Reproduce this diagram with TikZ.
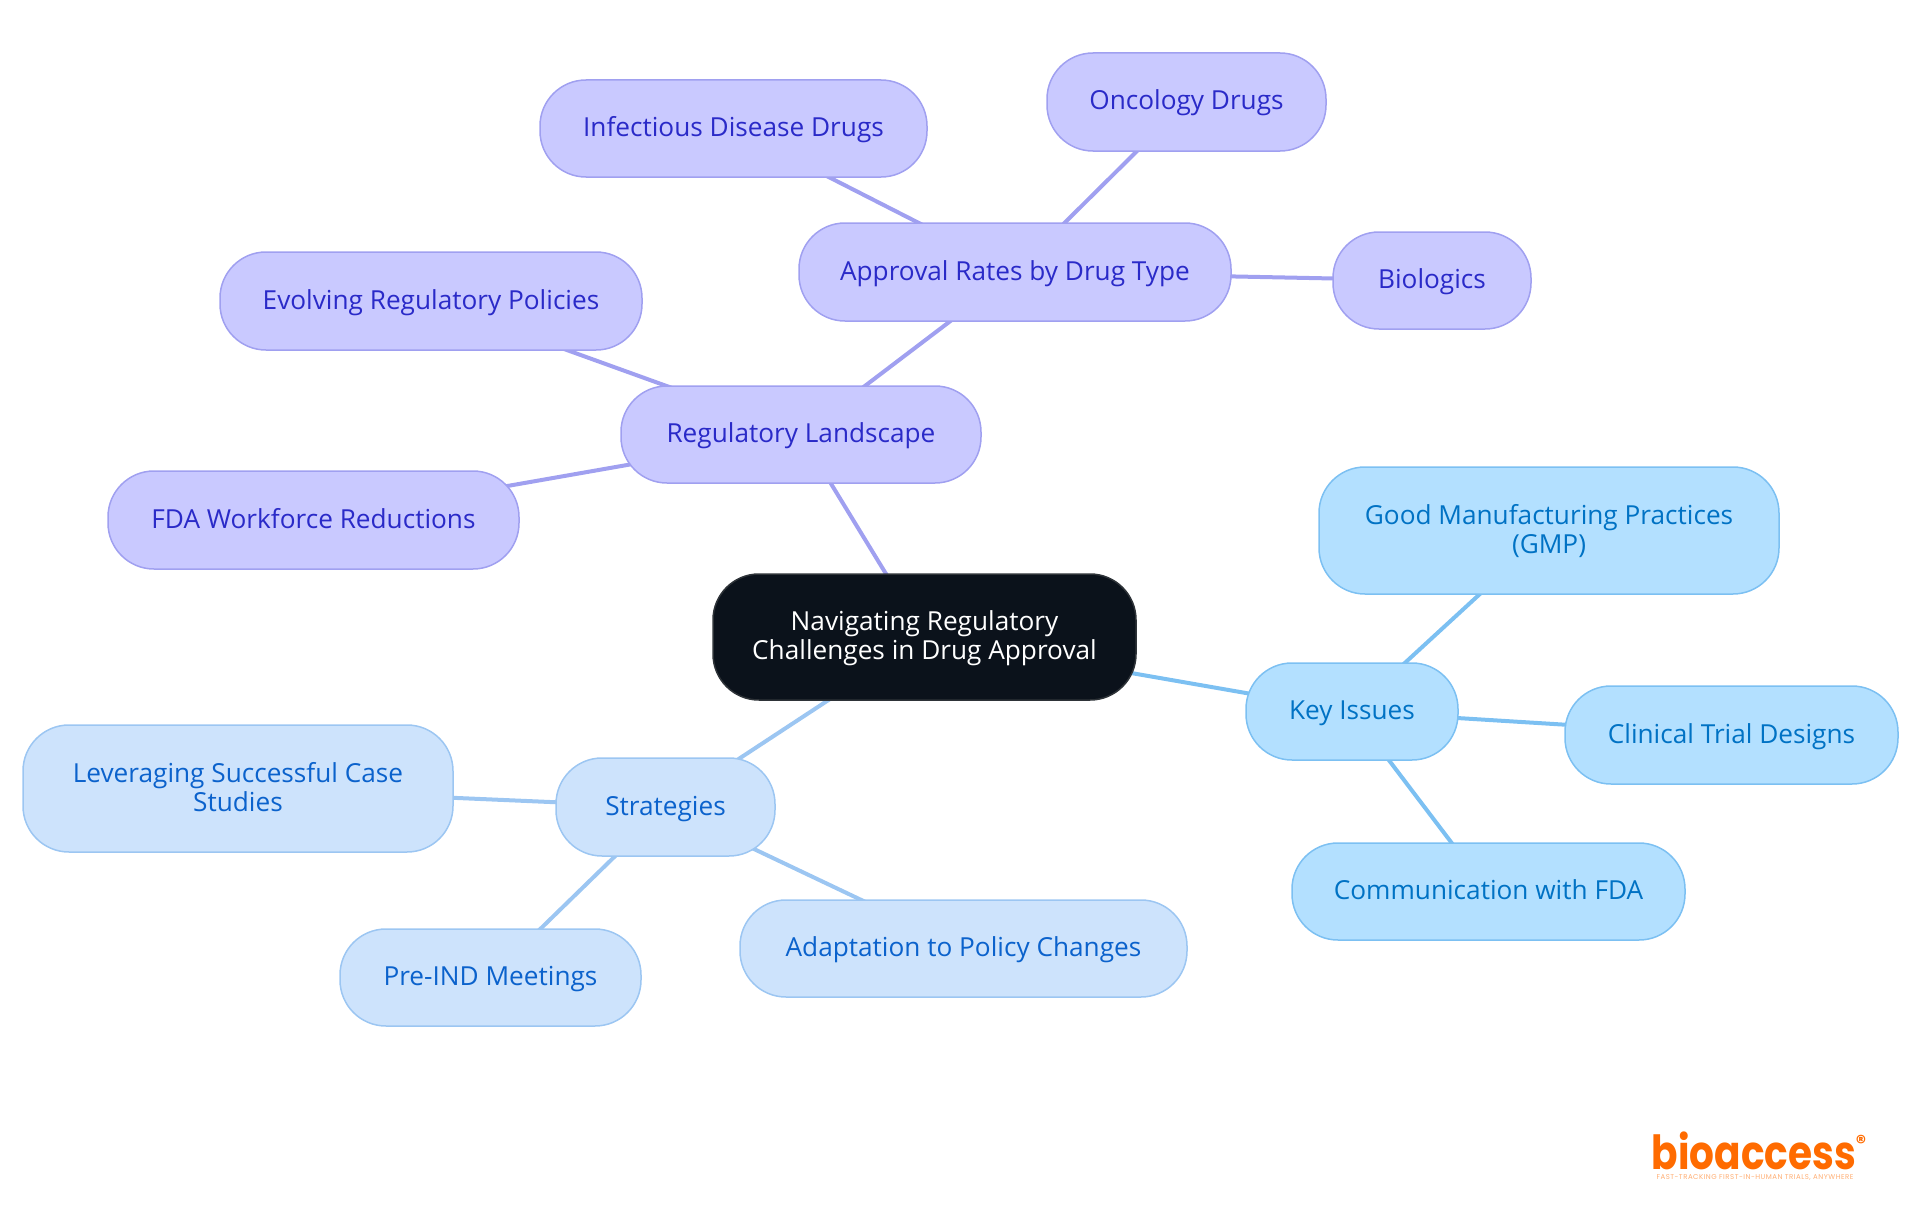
\documentclass[tikz,border=0pt]{standalone}
\usepackage{fontspec}
\usepackage{graphicx}
\usetikzlibrary{backgrounds}
\setmainfont{Open Sans}
\newfontfamily\logofont{Poppins}
\definecolor{rootfill}{HTML}{0B121B}
\definecolor{rootline}{HTML}{2E3338}
\definecolor{purfill}{HTML}{C9C9FF}
\definecolor{purline}{HTML}{A0A0F0}
\definecolor{purtext}{HTML}{2A2AC8}
\definecolor{skyfill}{HTML}{B3E0FF}
\definecolor{skyline}{HTML}{7CC0F2}
\definecolor{skytext}{HTML}{0072C4}
\definecolor{palefill}{HTML}{CDE3FC}
\definecolor{paleline}{HTML}{9CC6F2}
\definecolor{paletext}{HTML}{0B62CC}
\definecolor{logoorange}{HTML}{FF6B00}
\newcommand{\topstrut}{\rule{0pt}{24pt}}
\newcommand{\botstrut}{\rule[-8pt]{0pt}{8pt}}
\tikzset{
  x=1pt,y=-1pt,
  box/.style={rectangle,rounded corners=46pt,line width=1.5pt,align=center,inner sep=0pt,
     font=\fontsize{26.2}{29}\selectfont},
  rootbox/.style={box,fill=rootfill,draw=rootline,text=white},
  purbox/.style={box,fill=purfill,draw=purline,text=purtext},
  skybox/.style={box,fill=skyfill,draw=skyline,text=skytext},
  palebox/.style={box,fill=palefill,draw=paleline,text=paletext},
  purlink/.style={draw=purline,line width=4pt},
  skylink/.style={draw=skyline,line width=4pt},
  palelink/.style={draw=paleline,line width=4pt},
}
\begin{document}
\begin{tikzpicture}
\useasboundingbox (0,0) rectangle (1920,1215);
\def\mk#1#2#3#4#5#6#7{%
  \pgfmathsetmacro\mycx{(#3+#4)/2}\pgfmathsetmacro\mycy{(#5+#6)/2}%
  \pgfmathsetmacro\mywd{#4-#3}\pgfmathsetmacro\myht{#6-#5}%
  \node[#1,minimum width=\mywd pt,minimum height=\myht pt] (#2) at (\mycx,\mycy) {\topstrut #7\botstrut};}
\mk{rootbox}{root}{713}{1136}{574}{700}{Navigating Regulatory\\Challenges in Drug Approval}
\mk{purbox}{reg}{621}{981}{386}{483}{Regulatory Landscape}
\mk{purbox}{rates}{799}{1231}{223}{321}{Approval Rates by Drug Type}
\mk{purbox}{infect}{540}{927}{80}{177}{Infectious Disease Drugs}
\mk{purbox}{onco}{1047}{1326}{53}{151}{Oncology Drugs}
\mk{purbox}{bio}{1333}{1531}{232}{329}{Biologics}
\mk{purbox}{evolve}{220}{642}{252}{350}{Evolving Regulatory Policies}
\mk{purbox}{fda}{108}{519}{471}{569}{FDA Workforce Reductions}
\mk{skybox}{key}{1246}{1458}{663}{760}{Key Issues}
\mk{skybox}{gmp}{1319}{1779}{467}{594}{Good Manufacturing Practices\\(GMP)}
\mk{skybox}{trial}{1565}{1898}{686}{784}{Clinical Trial Designs}
\mk{skybox}{comm}{1292}{1685}{843}{940}{Communication with FDA}
\mk{palebox}{strat}{556}{775}{758}{856}{Strategies}
\mk{palebox}{case}{23}{453}{725}{852}{Leveraging Successful Case\\Studies}
\mk{palebox}{pre}{340}{641}{929}{1026}{Pre-IND Meetings}
\mk{palebox}{adapt}{740}{1187}{900}{997}{Adaptation to Policy Changes}
\begin{scope}[on background layer]
\draw[purlink] (root.center)--(reg.center);
\draw[purlink] (reg.center)--(rates.center);
\draw[purlink] (reg.center)--(evolve.center);
\draw[purlink] (reg.center)--(fda.center);
\draw[purlink] (rates.center)--(infect.center);
\draw[purlink] (rates.center)--(onco.center);
\draw[purlink] (rates.center)--(bio.center);
\draw[skylink] (root.center)--(key.center);
\draw[skylink] (key.center)--(gmp.center);
\draw[skylink] (key.center)--(trial.center);
\draw[skylink] (key.center)--(comm.center);
\draw[palelink] (root.center)--(strat.center);
\draw[palelink] (strat.center)--(case.center);
\draw[palelink] (strat.center)--(pre.center);
\draw[palelink] (strat.center)--(adapt.center);
\end{scope}
\node[text=logoorange,inner sep=0pt,anchor=base,font=\logofont\bfseries\fontsize{47}{47}\selectfont] (logo) at (1754,1169) {\scalebox{0.83}[1]{bioaccess}};
\node[text=logoorange,inner sep=0pt,font=\logofont\bfseries\fontsize{20}{20}\selectfont] (regmark) at (1861,1142) {®};
\node[text=logoorange!55,inner sep=0pt,anchor=base,font=\logofont\fontsize{7}{8}\selectfont\addfontfeature{LetterSpace=7}] (tag) at (1755,1179) {FAST-TRACKING FIRST-IN-HUMAN TRIALS, ANYWHERE};
\end{tikzpicture}
\end{document}
